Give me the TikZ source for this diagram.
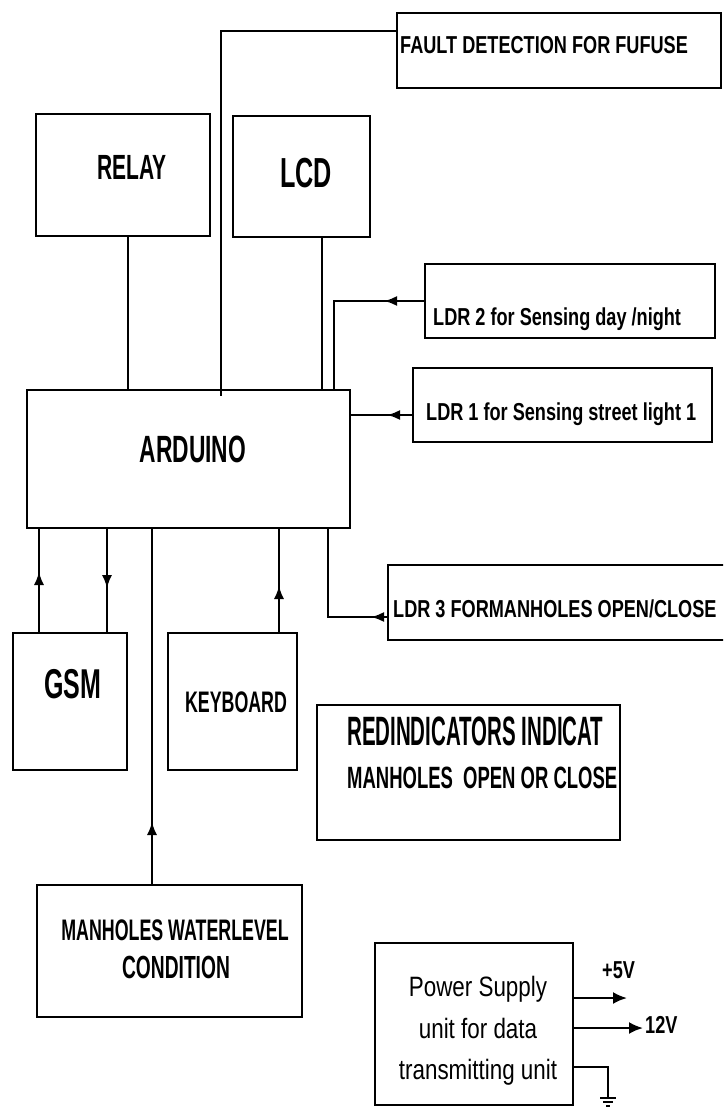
\documentclass[tikz,border=0pt]{standalone}
\usepackage{fontspec}
\usetikzlibrary{arrows.meta,decorations.markings}
\newfontfamily\condfont[FakeStretch=0.6]{Liberation Sans}
\newfontfamily\tallfont[FakeStretch=0.5]{Liberation Sans}
\newfontfamily\ldrfont[FakeStretch=0.74]{Liberation Sans}
\newfontfamily\pwrfont[FakeStretch=0.8]{Liberation Sans}
\begin{document}
\begin{tikzpicture}[x=1pt, y=-1pt,
    blk/.style={draw, line width=2pt, inner sep=0pt},
    lbl/.style={font=\condfont\bfseries\fontsize{#1}{#1}\selectfont, inner sep=0pt, anchor=base},
    ldr/.style={font=\ldrfont\bfseries\fontsize{24.5}{24.5}\selectfont, inner sep=0pt, anchor=base west},
    pwr/.style={font=\pwrfont\fontsize{28}{41.5}\selectfont, inner sep=0pt, align=center},
    wire/.style={line width=1.5pt},
    ldrwire/.style={line width=2.2pt},
    midarrow/.style={postaction={decorate}, decoration={markings, mark=at position #1 with {\arrow{Latex[length=13pt,width=10pt]}}}},
    tip/.style={line width=2.2pt, -{Latex[length=14pt,width=12pt]}}]
    \useasboundingbox (0,0) rectangle (723,1108);
    \clip (0,0) rectangle (723,1108);
    \node[blk, minimum width=324pt, minimum height=75pt] (fault) at (559,50.5) {};
    \node[ldr] (faulttxt) at (400,53) {FAULT DETECTION FOR FUFUSE};
    \node[blk, minimum width=174pt, minimum height=122pt] (relay) at (123,175) {};
    \node[lbl=35] (relaytxt) at (132,179) {RELAY};
    \node[blk, minimum width=137pt, minimum height=121pt] (lcd) at (301.5,176.5) {};
    \node[lbl=42] (lcdtxt) at (306,187) {LCD};
    \node[blk, minimum width=323pt, minimum height=138pt] (ard) at (188.5,459) {};
    \node[lbl=38] (ardtxt) at (193,462) {ARDUINO};
    \node[blk, minimum width=290pt, minimum height=74pt] (ldr2) at (570,301) {};
    \node[ldr] (ldr2txt) at (433,325) {LDR 2 for Sensing day /night};
    \node[blk, minimum width=299pt, minimum height=74pt] (ldr1) at (562.5,405) {};
    \node[ldr] (ldr1txt) at (426,420) {LDR 1 for Sensing street light 1};
    \node[blk, minimum width=347pt, minimum height=75pt] (ldr3) at (561.5,602.5) {};
    \node[ldr] (ldr3txt) at (393,617) {LDR 3 FORMANHOLES OPEN/CLOSE};
    \node[blk, minimum width=114pt, minimum height=137pt] (gsm) at (70,701.5) {};
    \node[lbl=41.7] (gsmtxt) at (73,698) {GSM};
    \node[blk, minimum width=129pt, minimum height=137pt] (kbd) at (232.5,701.5) {};
    \node[lbl=29.7] (kbdtxt) at (236,712) {KEYBOARD};
    \node[blk, minimum width=303pt, minimum height=135pt] (red) at (468.5,772.5) {};
    \node[font=\tallfont\bfseries\fontsize{41}{41}\selectfont, inner sep=0pt, anchor=base west] (redtxta) at (347,745) {REDINDICATORS INDICAT};
    \node[lbl=30.8, anchor=base west] (redtxtb) at (347,788) {MANHOLES\ \ OPEN OR CLOSE};
    \node[blk, minimum width=265pt, minimum height=132pt] (water) at (169.5,951) {};
    \node[lbl=29.7] (watertxta) at (175,940) {MANHOLES WATERLEVEL};
    \node[lbl=32] (watertxtb) at (176,978) {CONDITION};
    \node[blk, minimum width=198pt, minimum height=162pt] (pwrbox) at (474,1024) {};
    \node[pwr] (pwrtxt) at (478,1031) {Power Supply\\unit for data\\transmitting unit};
    \coordinate (fj) at (221,31);
    \draw[wire] (fault.west |- fj) -- (fj) -- ([yshift=-7pt]fj |- ard.north);
    \draw[wire] ([xshift=5pt]relay.south) -- ([xshift=5pt]relay.south |- ard.north);
    \draw[wire] ([xshift=20.5pt]lcd.south) -- ([xshift=20.5pt]lcd.south |- ard.north);
    \draw[ldrwire, midarrow=40pt] (ldr2.west) -| ([xshift=-17pt]ard.north east);
    \draw[ldrwire, midarrow=25pt] ([yshift=-10pt]ldr1.west) -- ([yshift=-10pt]ldr1.west -| ard.east);
    \draw[ldrwire, midarrow=16pt] ([yshift=-14.5pt]ldr3.west) -| ([xshift=-23pt]ard.south east);
    \draw[wire, midarrow=60pt] ([xshift=-31pt]gsm.north) -- ([xshift=-31pt]gsm.north |- ard.south);
    \draw[wire, midarrow=59pt] ([xshift=37pt]gsm.north |- ard.south) -- ([xshift=37pt]gsm.north);
    \draw[wire, midarrow=46pt] ([xshift=46.5pt]kbd.north) -- ([xshift=46.5pt]kbd.north |- ard.south);
    \draw[wire, midarrow=62pt] ([xshift=-17.5pt]water.north) -- ([xshift=-17.5pt]water.north |- ard.south);
    \coordinate (v5) at (627,998);
    \coordinate (v12) at (643,1028);
    \coordinate (gnd) at (608,1098);
    \draw[tip] (pwrbox.east |- v5) -- (v5);
    \draw[tip] (pwrbox.east |- v12) -- (v12);
    \node[ldr] (v5txt) at (602,978) {+5V};
    \node[ldr] (v12txt) at (645,1033) {12V};
    \draw[wire] ([yshift=-43pt]pwrbox.east) -| (gnd);
    \draw[wire] ([xshift=-8pt]gnd) -- ++(16,0) ([xshift=-5pt,yshift=-4pt]gnd) -- ++(10,0) ([xshift=-2pt,yshift=-8pt]gnd) -- ++(4,0);
\end{tikzpicture}
\end{document}
